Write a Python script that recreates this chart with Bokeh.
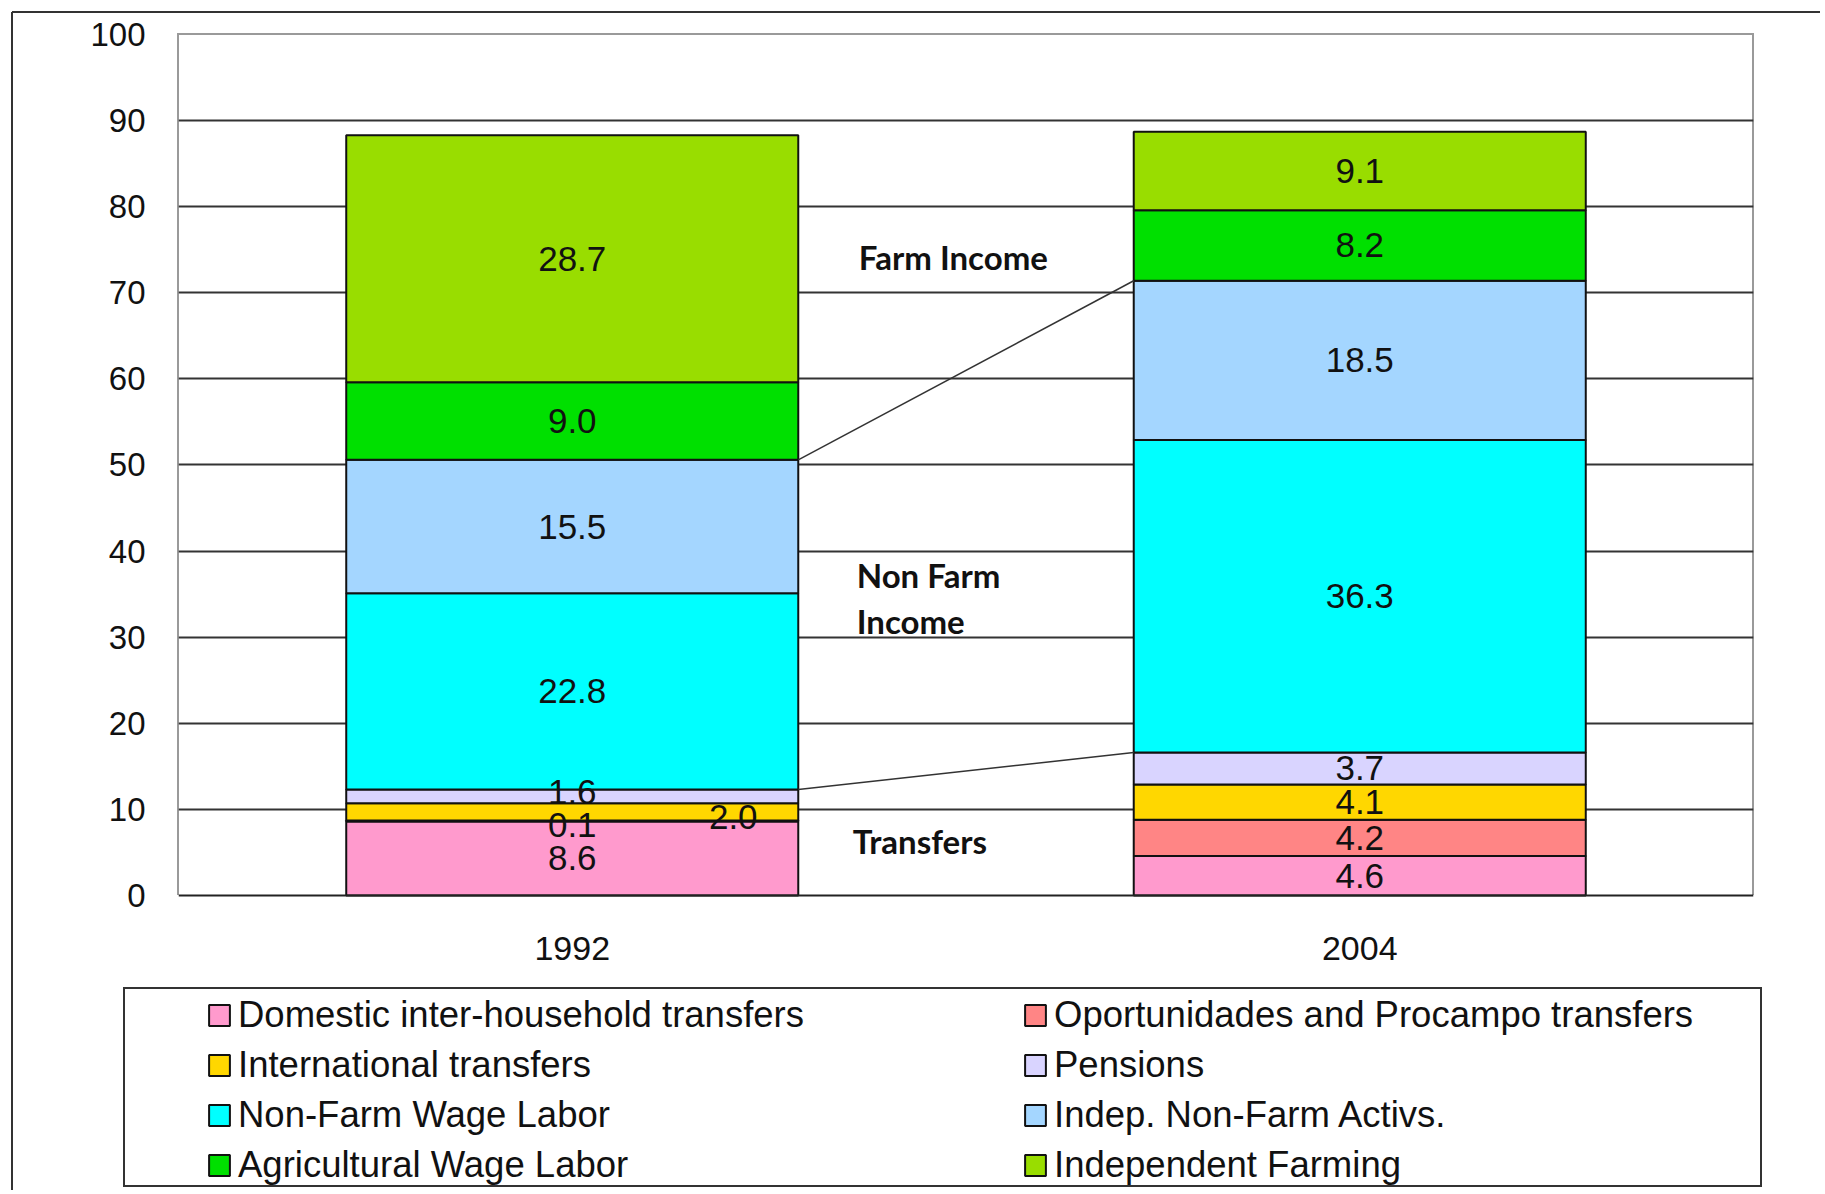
from bokeh.plotting import figure
from bokeh.models import (ColumnDataSource, FactorRange, Range1d, FixedTicker,
                          Legend, LegendItem)
from bokeh.transform import dodge
from bokeh.embed import file_html
from bokeh.resources import INLINE
from bokeh.core.properties import value

# ---------------- data ----------------
years = ["1992", "2004"]
series = [
    "Domestic inter-household transfers",
    "Oportunidades and Procampo transfers",
    "International transfers",
    "Pensions",
    "Non-Farm Wage Labor",
    "Indep. Non-Farm Activs.",
    "Agricultural Wage Labor",
    "Independent Farming",
]
domestic = [8.6, 4.6]
oportunidades = [0.1, 4.2]
international = [2.0, 4.1]
pensions = [1.6, 3.7]
nonfarm_wage = [22.8, 36.3]
indep_nonfarm = [15.5, 18.5]
agri_wage = [9.0, 8.2]
indep_farming = [28.7, 9.1]
colors = ["#FF9ACD", "#FF8585", "#FFD700", "#D9D4FF",
          "#00FFFF", "#A4D6FF", "#00E000", "#99DD00"]
y_ticks = [0, 10, 20, 30, 40, 50, 60, 70, 80, 90, 100]
group_labels = ["Farm Income", "Non Farm\nIncome", "Transfers"]

values = [domestic, oportunidades, international, pensions,
          nonfarm_wage, indep_nonfarm, agri_wage, indep_farming]
keys = ["s%d" % i for i in range(len(series))]

FONT = "Liberation Sans"
BAR_W = 0.574


def line(x, y, w, h, c="#333333"):
    return f"linear-gradient({c},{c}) {x}px {y}px / {w}px {h}px no-repeat"


# decorative frames: outer slide border, plot-area border, legend box
frames = ", ".join([
    line(12, 11, 1813, 2), line(11, 12, 2, 1190),
    line(177, 33, 1577, 2, "#9a9a9a"), line(177, 33, 2, 862, "#9a9a9a"),
    line(1752, 33, 2, 862, "#9a9a9a"),
    line(123, 987, 1639, 2), line(123, 1185, 1639, 2),
    line(123, 987, 2, 200), line(1760, 987, 2, 200),
])

# ---------------- main chart ----------------
# the frame reaches down to the legend box so the legend is not clipped;
# the value axis still spans 0..100 and the category axis sits at y = 0
p = figure(x_range=FactorRange(factors=years), y_range=Range1d(-33.8, 100),
           frame_width=1575, frame_height=1152,
           min_border_left=178, min_border_right=67,
           min_border_top=34, min_border_bottom=4,
           output_backend="svg", toolbar_location=None,
           styles={"background": frames + ", #ffffff"})
p.background_fill_alpha = 0
p.border_fill_alpha = 0
p.outline_line_color = None

src = ColumnDataSource({"years": years, **{k: v for k, v in zip(keys, values)}})
bars = p.vbar_stack(keys, x="years", width=BAR_W, source=src,
                    fill_color=colors, line_color="#111111", line_width=2)

# segment value labels
lx, ly, lt, xo, yo = [], [], [], [], []
nudges = {("1992", 1): (0, 4), ("1992", 2): (161, 5), ("1992", 3): (0, -4)}
cum = [0.0 for _ in years]
tops = {}
for i, vals in enumerate(values):
    for j, yr in enumerate(years):
        v = vals[j]
        mid = cum[j] + v / 2
        cum[j] += v
        tops[(yr, i)] = cum[j]
        dx, dy = nudges.get((yr, i), (0, 0))
        lx.append(yr); ly.append(mid); lt.append("%.1f" % v)
        xo.append(dx); yo.append(dy)
lab_src = ColumnDataSource(dict(x=lx, y=ly, text=lt, xo=xo, yo=yo))
p.text(x="x", y="y", text="text", x_offset="xo", y_offset="yo", source=lab_src,
       text_font=value(FONT), text_font_size="35px", text_color="#111111",
       text_align="center", text_baseline="middle")

# connector lines between bars (tops of Indep. Non-Farm and Pensions)
con_src = ColumnDataSource(dict(
    x0=[years[0], years[0]], x1=[years[1], years[1]],
    y0=[tops[(years[0], 5)], tops[(years[0], 3)]],
    y1=[tops[(years[1], 5)], tops[(years[1], 3)]]))
p.segment(x0=dodge("x0", BAR_W / 2, range=p.x_range), y0="y0",
          x1=dodge("x1", -BAR_W / 2, range=p.x_range), y1="y1",
          source=con_src, line_color="#333333", line_width=1.5)

# group annotations
grp_src = ColumnDataSource(dict(x=[years[0]] * 3, y=[74.1, 34.5, 6.35],
                                text=group_labels, xo=[3, 1, -3]))
p.text(x=dodge("x", 0.36, range=p.x_range), y="y", text="text",
       x_offset="xo", source=grp_src,
       text_font=value("Lato"), text_font_style="bold", text_font_size="33px",
       text_color="#111111", text_align="left", text_baseline="middle",
       text_line_height=1.15)

# axes
p.yaxis.ticker = FixedTicker(ticks=y_ticks)
p.yaxis.axis_line_color = None
p.yaxis.major_tick_line_color = None
p.yaxis.minor_tick_line_color = None
p.yaxis.major_label_standoff = 27
p.yaxis.major_label_text_font = FONT
p.yaxis.major_label_text_font_size = "33px"
p.yaxis.major_label_text_color = "#111111"

p.xaxis.fixed_location = 0
p.xaxis.axis_line_color = "#222222"
p.xaxis.axis_line_width = 2
p.xaxis.major_tick_line_color = None
p.xaxis.minor_tick_line_color = None
p.xaxis.major_label_standoff = 36
p.xaxis.major_label_text_font = FONT
p.xaxis.major_label_text_font_size = "34px"
p.xaxis.major_label_text_color = "#111111"

p.xgrid.grid_line_color = None
p.ygrid.ticker = FixedTicker(ticks=y_ticks[1:-1])
p.ygrid.grid_line_color = "#333333"
p.ygrid.grid_line_width = 2

# ---------------- legend ----------------
items = [LegendItem(label=name, renderers=[r]) for name, r in zip(series, bars)]
leg = Legend(items=items, location=(28, 0.5), orientation="horizontal", ncols=2,
             padding=0, margin=0, spacing=8,
             glyph_width=26, glyph_height=26, label_standoff=6,
             label_width=776, label_height=38,
             label_text_font=FONT, label_text_font_size="36.5px",
             label_text_color="#111111",
             border_line_alpha=0, background_fill_alpha=0)
p.add_layout(leg)

open("out.html", "w").write(file_html(p, INLINE))
